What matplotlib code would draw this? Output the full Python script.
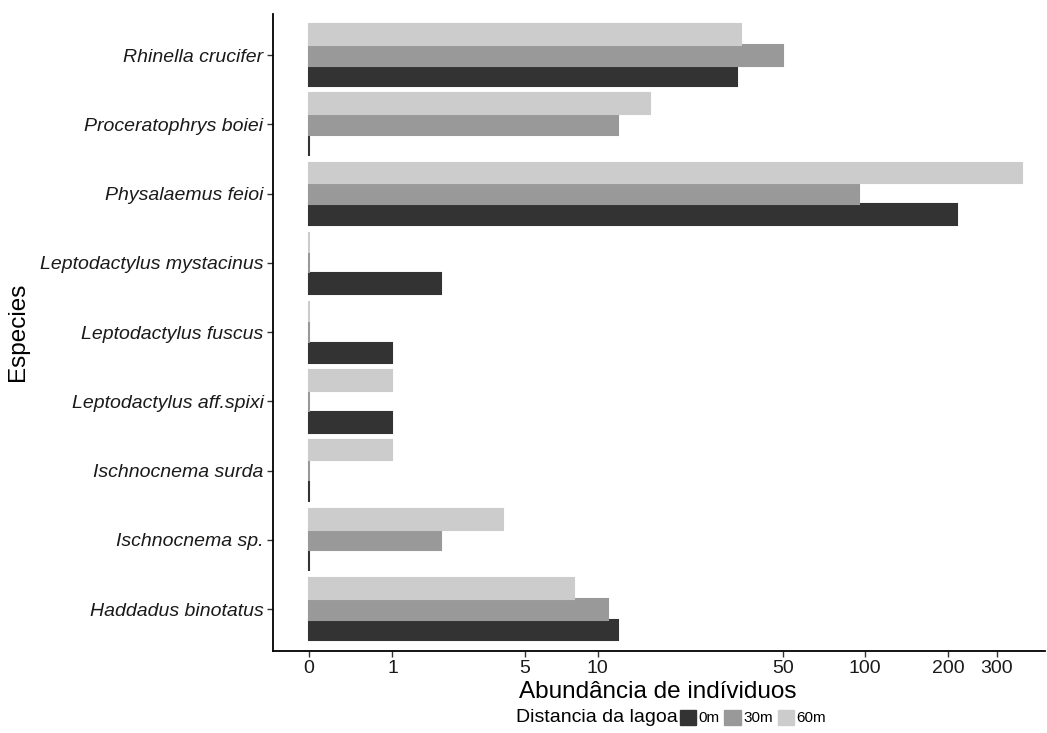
import matplotlib
matplotlib.use("Agg")
import matplotlib.pyplot as plt
from matplotlib.patches import Patch
import numpy as np

plt.rcParams['font.family'] = ['Liberation Sans', 'DejaVu Sans']

# species from bottom to top
species = ["Haddadus binotatus", "Ischnocnema sp.", "Ischnocnema surda",
           "Leptodactylus aff.spixi", "Leptodactylus fuscus",
           "Leptodactylus mystacinus", "Physalaemus feioi",
           "Proceratophrys boiei", "Rhinella crucifer"]
dist_labels = ["0m", "30m", "60m"]
ab_0m = [12, 0, 0, 1, 1, 2, 215, 0, 34]
ab_30m = [11, 2, 0, 0, 0, 0, 95, 12, 50]
ab_60m = [8, 4, 1, 1, 0, 0, 370, 16, 35]
colors = ["#333333", "#999999", "#cccccc"]
breaks = [0, 1, 5, 10, 50, 100, 200, 300]

fig = plt.figure(figsize=(10.47, 7.33), dpi=100)
ax = fig.add_axes([0.261, 0.1123, 0.737, 0.869])

ax.set_xscale("function", functions=(np.log1p, np.expm1))

y = np.arange(len(species))
h = 0.3
for i, vals in enumerate([ab_0m, ab_30m, ab_60m]):
    ax.barh(y + (i - 1) * h, vals, height=h, color=colors[i],
            edgecolor=colors[i], linewidth=1.5)

ax.set_xlim(np.expm1(-0.296), np.expm1(6.108))
ax.set_ylim(-0.6, 8.6)
ax.set_xticks(breaks)
ax.set_xticklabels([str(b) for b in breaks])
ax.minorticks_off()
ax.set_yticks(y)
ax.set_yticklabels(species, style="italic")

for s in ["top", "right"]:
    ax.spines[s].set_visible(False)
for s in ["left", "bottom"]:
    ax.spines[s].set_linewidth(1.3)
    ax.spines[s].set_color("black")
ax.tick_params(axis="both", length=4, width=1, color="#333333",
               labelsize=14, labelcolor="#1a1a1a", pad=3)

ax.set_xlabel("Abundância de indíviduos", fontsize=17.5)
ax.set_ylabel("Especies", fontsize=17.5)
ax.xaxis.set_label_coords(0.498, -0.047)
ax.yaxis.set_label_coords(-0.316, 0.5)

fig.text(0.647, 0.021, "Distancia da lagoa", fontsize=14, ha="right",
         va="center")
handles = [Patch(facecolor=c, edgecolor=c) for c in colors]
fig.legend(handles, dist_labels, loc="center left",
           bbox_to_anchor=(0.649, 0.021), ncol=3, frameon=False,
           fontsize=11, handlelength=1.1, handleheight=1.1,
           handletextpad=0.15, columnspacing=0.3, borderpad=0,
           borderaxespad=0)

fig.savefig("out.png", dpi=100)
